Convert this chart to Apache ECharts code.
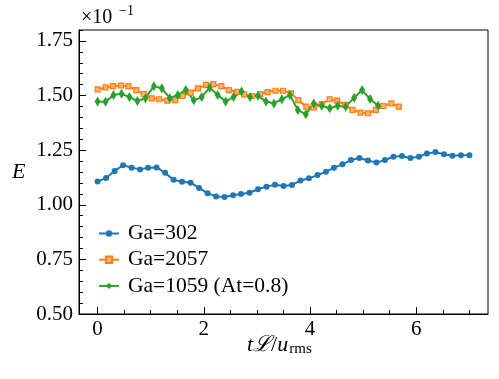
<!DOCTYPE html>
<html>
<head>
<meta charset="utf-8">
<script src="https://cdn.jsdelivr.net/npm/echarts@6/dist/echarts.min.js"></script>
<style>
html,body{margin:0;padding:0;background:#fff;}
#chart{width:499px;height:379px;}
</style>
</head>
<body>
<div id="chart"></div>
<script>
// ---- data ----
const tGa302 = [0, 0.16, 0.32, 0.48, 0.64, 0.80, 0.95, 1.11, 1.27, 1.43, 1.59, 1.75, 1.91, 2.07, 2.23, 2.39, 2.55, 2.70, 2.86, 3.02, 3.18, 3.34, 3.50, 3.66, 3.82, 3.98, 4.14, 4.30, 4.45, 4.61, 4.77, 4.93, 5.09, 5.25, 5.41, 5.57, 5.73, 5.89, 6.05, 6.20, 6.36, 6.52, 6.68, 6.84, 7.00];
const eGa302 = [1.106, 1.123, 1.155, 1.181, 1.170, 1.162, 1.170, 1.171, 1.146, 1.114, 1.105, 1.101, 1.077, 1.053, 1.038, 1.036, 1.044, 1.049, 1.055, 1.071, 1.083, 1.092, 1.086, 1.091, 1.111, 1.121, 1.136, 1.151, 1.170, 1.185, 1.205, 1.214, 1.203, 1.193, 1.205, 1.220, 1.223, 1.214, 1.220, 1.235, 1.241, 1.231, 1.224, 1.227, 1.227];

const tGa2057 = [0, 0.15, 0.29, 0.44, 0.58, 0.73, 0.87, 1.02, 1.16, 1.31, 1.46, 1.60, 1.75, 1.89, 2.04, 2.18, 2.33, 2.47, 2.62, 2.76, 2.91, 3.06, 3.20, 3.35, 3.49, 3.64, 3.78, 3.93, 4.07, 4.22, 4.37, 4.51, 4.66, 4.80, 4.95, 5.09, 5.24, 5.38, 5.53, 5.67];
const eGa2057 = [1.528, 1.537, 1.543, 1.546, 1.543, 1.525, 1.507, 1.487, 1.483, 1.477, 1.479, 1.498, 1.513, 1.533, 1.549, 1.552, 1.543, 1.525, 1.517, 1.505, 1.498, 1.507, 1.516, 1.522, 1.522, 1.510, 1.479, 1.449, 1.446, 1.461, 1.483, 1.477, 1.457, 1.434, 1.422, 1.419, 1.434, 1.452, 1.464, 1.449];

const tGa1059 = [0, 0.15, 0.30, 0.45, 0.60, 0.75, 0.90, 1.06, 1.21, 1.36, 1.51, 1.66, 1.81, 1.96, 2.11, 2.26, 2.41, 2.56, 2.71, 2.87, 3.02, 3.17, 3.32, 3.47, 3.62, 3.77, 3.92, 4.07, 4.22, 4.37, 4.52, 4.67, 4.83, 4.98, 5.13, 5.28];
const eGa1059 = [1.473, 1.471, 1.503, 1.508, 1.493, 1.475, 1.488, 1.543, 1.533, 1.488, 1.503, 1.525, 1.478, 1.493, 1.536, 1.503, 1.473, 1.493, 1.518, 1.493, 1.499, 1.473, 1.464, 1.483, 1.503, 1.434, 1.414, 1.464, 1.453, 1.442, 1.453, 1.449, 1.490, 1.525, 1.484, 1.453];

const seriesNames = ['Ga=302', 'Ga=2057', 'Ga=1059 (At=0.8)'];
const xMajorTicks = [0, 2, 4, 6];
const xMinorTicks = [0.5, 1, 1.5, 2.5, 3, 3.5, 4.5, 5, 5.5, 6.5, 7];
const yMajorTicks = [0.50, 0.75, 1.00, 1.25, 1.50, 1.75];
const yMinorTicks = [0.55, 0.60, 0.65, 0.70, 0.80, 0.85, 0.90, 0.95, 1.05, 1.10, 1.15, 1.20, 1.30, 1.35, 1.40, 1.45, 1.55, 1.60, 1.65, 1.70, 1.80];

// ---- chart ----
const zip = (a, b) => a.map((v, i) => [v, b[i]]);
const SERIF = 'Liberation Serif';
const X = {min: -0.35, max: 7.35};
const Y = {min: 0.5, max: 1.8};

const chart = echarts.init(document.getElementById('chart'), null, {renderer: 'canvas'});
chart.setOption({
  animation: false,
  backgroundColor: '#fff',
  textStyle: {fontFamily: SERIF},
  grid: {left: 79, right: 11, top: 30, bottom: 65, show: true, borderColor: '#000', borderWidth: 1, backgroundColor: 'transparent'},
  xAxis: [
    {type: 'value', min: X.min, max: X.max, position: 'bottom',
     axisLine: {show: true, onZero: false, lineStyle: {color: '#000', width: 1}},
     axisTick: {show: true, inside: true, length: 7, customValues: xMajorTicks, lineStyle: {color: '#000', width: 1}},
     axisLabel: {show: true, customValues: xMajorTicks, formatter: v => String(v), margin: 5, color: '#000', fontFamily: SERIF, fontSize: 21},
     splitLine: {show: false}},
    {type: 'value', min: X.min, max: X.max, position: 'bottom',
     axisLine: {show: false, onZero: false},
     axisTick: {show: true, inside: true, length: 4, customValues: xMinorTicks, lineStyle: {color: '#000', width: 1}},
     axisLabel: {show: false}, splitLine: {show: false}}
  ],
  yAxis: [
    {type: 'value', min: Y.min, max: Y.max, position: 'left',
     axisLine: {show: true, onZero: false, lineStyle: {color: '#000', width: 1}},
     axisTick: {show: true, inside: true, length: 7, customValues: yMajorTicks, lineStyle: {color: '#000', width: 1}},
     axisLabel: {show: true, customValues: yMajorTicks, formatter: v => v.toFixed(2), margin: 6, color: '#000', fontFamily: SERIF, fontSize: 21},
     splitLine: {show: false}},
    {type: 'value', min: Y.min, max: Y.max, position: 'left',
     axisLine: {show: false, onZero: false},
     axisTick: {show: true, inside: true, length: 4, customValues: yMinorTicks, lineStyle: {color: '#000', width: 1}},
     axisLabel: {show: false}, splitLine: {show: false}}
  ],
  legend: {
    orient: 'vertical', left: 98, top: 222.5, padding: 0, itemWidth: 20, itemHeight: 8, itemGap: 4.2,
    data: seriesNames,
    textStyle: {fontFamily: SERIF, fontSize: 21.5, color: '#000', lineHeight: 20, padding: [0, 0, 0, 4]}
  },
  series: [
    {name: seriesNames[0], type: 'line', data: zip(tGa302, eGa302), xAxisIndex: 0, yAxisIndex: 0,
     symbol: 'circle', symbolSize: 6, showAllSymbol: true,
     lineStyle: {color: '#1f77b4', width: 2}, itemStyle: {color: '#1f77b4'}},
    {name: seriesNames[1], type: 'line', data: zip(tGa2057, eGa2057), xAxisIndex: 0, yAxisIndex: 0,
     symbol: 'rect', symbolSize: 5, showAllSymbol: true,
     lineStyle: {color: '#ff7f0e', width: 2}, itemStyle: {color: '#ffb173', borderColor: '#ff7f0e', borderWidth: 1.2}},
    {name: seriesNames[2], type: 'line', data: zip(tGa1059, eGa1059), xAxisIndex: 0, yAxisIndex: 0,
     symbol: 'diamond', symbolSize: [6, 10], showAllSymbol: true,
     lineStyle: {color: '#2ca02c', width: 2}, itemStyle: {color: '#2ca02c'}}
  ],
  graphic: [
    {type: 'text', left: 81, top: 8, style: {text: '×10', fontFamily: SERIF, fontSize: 20, fill: '#000'}},
    {type: 'text', left: 119, top: 4, style: {text: '−1', fontFamily: SERIF, fontSize: 14, fill: '#000'}},
    {type: 'text', left: 12, top: 161, style: {text: 'E', fontFamily: SERIF, fontStyle: 'italic', fontSize: 22, fill: '#000'}},
    {type: 'text', left: 247, top: 334, style: {
      text: '{i|t}{s|ℒ}{n|/}{i|u}{b|rms}',
      rich: {
        i: {fontFamily: SERIF, fontStyle: 'italic', fontSize: 22, fill: '#000', lineHeight: 24, verticalAlign: 'middle'},
        s: {fontFamily: SERIF, fontStyle: 'italic', fontSize: 22, fill: '#000', lineHeight: 24, verticalAlign: 'middle'},
        n: {fontFamily: SERIF, fontSize: 22, fill: '#000', lineHeight: 24, verticalAlign: 'middle'},
        b: {fontFamily: SERIF, fontSize: 15, fill: '#000', lineHeight: 14, verticalAlign: 'bottom', padding: [0, 0, 0, 1]}
      }
    }}
  ]
});
</script>
</body>
</html>
